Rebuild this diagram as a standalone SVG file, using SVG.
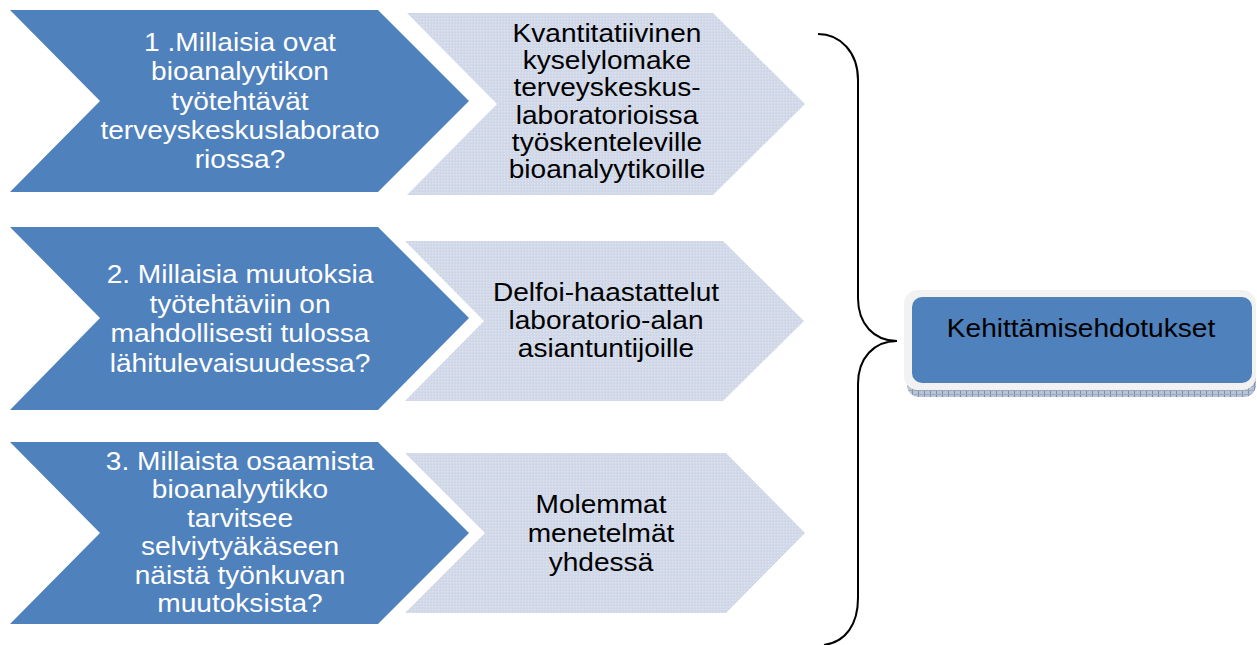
<svg xmlns="http://www.w3.org/2000/svg" width="1257" height="645" viewBox="0 0 1257 645">
  <defs>
    <!-- fine dotted texture for the pale method arrows -->
    <pattern id="dots" width="3" height="3" patternUnits="userSpaceOnUse">
      <rect width="3" height="3" fill="#d2d9e9"/>
      <rect x="0" y="0" width="1" height="1" fill="#dfe4ef"/>
      <rect x="2" y="2" width="1" height="1" fill="#cad2e4"/>
    </pattern>
    <!-- hatched edge under the result box -->
    <pattern id="hatch" width="6" height="4" patternUnits="userSpaceOnUse">
      <rect width="6" height="4" fill="#b9c3d6"/>
      <rect x="0" y="0" width="1" height="4" fill="#7f8fac"/>
      <rect x="0" y="2" width="6" height="1" fill="#9aa8c1"/>
    </pattern>
    <style>
      .q { fill: #4f81bd; }
      .m { fill: url(#dots); }
      .qt { font-family: "Liberation Sans", Arial, sans-serif; font-size: 26px; fill: #ffffff; text-anchor: middle; }
      .mt { font-family: "Liberation Sans", Arial, sans-serif; font-size: 26px; fill: #000000; text-anchor: middle; }
      .brace { fill: none; stroke: #000000; stroke-width: 2; }
    </style>
  </defs>

  <rect width="1257" height="645" fill="#ffffff"/>

  <!-- Research question 1 -->
  <g id="question1">
    <path class="q" d="M10,10 L378,10 L469,101 L378,192 L10,192 L100,101 Z"/>
    <g transform="translate(240 0) scale(1.08 1)">
      <text class="qt" x="0" y="51">1 .Millaisia ovat</text>
      <text class="qt" x="0" y="80">bioanalyytikon</text>
      <text class="qt" x="0" y="110">työtehtävät</text>
      <text class="qt" x="0" y="139">terveyskeskuslaborato</text>
      <text class="qt" x="0" y="168">riossa?</text>
    </g>
  </g>

  <!-- Method 1 -->
  <g id="method1">
    <path class="m" d="M407,13 L713,13 L805,104 L713,195 L407,195 L497,104 Z"/>
    <g transform="translate(607 0) scale(1.08 1)">
      <text class="mt" x="0" y="42">Kvantitatiivinen</text>
      <text class="mt" x="0" y="69">kyselylomake</text>
      <text class="mt" x="0" y="96">terveyskeskus-</text>
      <text class="mt" x="0" y="124">laboratorioissa</text>
      <text class="mt" x="0" y="151">työskenteleville</text>
      <text class="mt" x="0" y="178">bioanalyytikoille</text>
    </g>
  </g>

  <!-- Research question 2 -->
  <g id="question2">
    <path class="q" d="M10,227 L378,227 L469,318 L378,410 L10,410 L100,318 Z"/>
    <g transform="translate(240 0) scale(1.08 1)">
      <text class="qt" x="0" y="283">2. Millaisia muutoksia</text>
      <text class="qt" x="0" y="313">työtehtäviin on</text>
      <text class="qt" x="0" y="342">mahdollisesti tulossa</text>
      <text class="qt" x="0" y="372">lähitulevaisuudessa?</text>
    </g>
  </g>

  <!-- Method 2 -->
  <g id="method2">
    <path class="m" d="M405,241 L723,241 L804,321 L723,401 L405,401 L484,321 Z"/>
    <g transform="translate(606 0) scale(1.08 1)">
      <text class="mt" x="0" y="301">Delfoi-haastattelut</text>
      <text class="mt" x="0" y="329">laboratorio-alan</text>
      <text class="mt" x="0" y="357">asiantuntijoille</text>
    </g>
  </g>

  <!-- Research question 3 -->
  <g id="question3">
    <path class="q" d="M10,442 L378,442 L469,533 L378,624 L10,624 L100,533 Z"/>
    <g transform="translate(240 0) scale(1.08 1)">
      <text class="qt" x="0" y="470">3. Millaista osaamista</text>
      <text class="qt" x="0" y="498.5">bioanalyytikko</text>
      <text class="qt" x="0" y="527">tarvitsee</text>
      <text class="qt" x="0" y="555.5">selviytyäkäseen</text>
      <text class="qt" x="0" y="584">näistä työnkuvan</text>
      <text class="qt" x="0" y="612.5">muutoksista?</text>
    </g>
  </g>

  <!-- Method 3 -->
  <g id="method3">
    <path class="m" d="M405,453 L726,453 L805,533 L726,613 L405,613 L485,533 Z"/>
    <g transform="translate(601 0) scale(1.08 1)">
      <text class="mt" x="0" y="513">Molemmat</text>
      <text class="mt" x="0" y="542">menetelmät</text>
      <text class="mt" x="0" y="571">yhdessä</text>
    </g>
  </g>

  <!-- Brace gathering all three rows -->
  <g id="connectors">
    <path class="brace" d="M818,34 C840,34 858,52 858,80 L858,298 C858,324 874,341 897,341 C874,341 858,358 858,384 L858,598 C858,624 846,642 824,645"/>
  </g>

  <!-- Result box -->
  <g id="result">
    <rect x="907" y="297" width="349" height="100" rx="12" fill="url(#hatch)"/>
    <rect x="904" y="290" width="352" height="100" rx="14" fill="#f2f2f2"/>
    <rect x="912" y="297" width="340" height="86" rx="10" fill="#4f81bd"/>
    <g transform="translate(1081 0) scale(1.08 1)">
      <text class="mt" x="0" y="337">Kehittämisehdotukset</text>
    </g>
  </g>
</svg>
